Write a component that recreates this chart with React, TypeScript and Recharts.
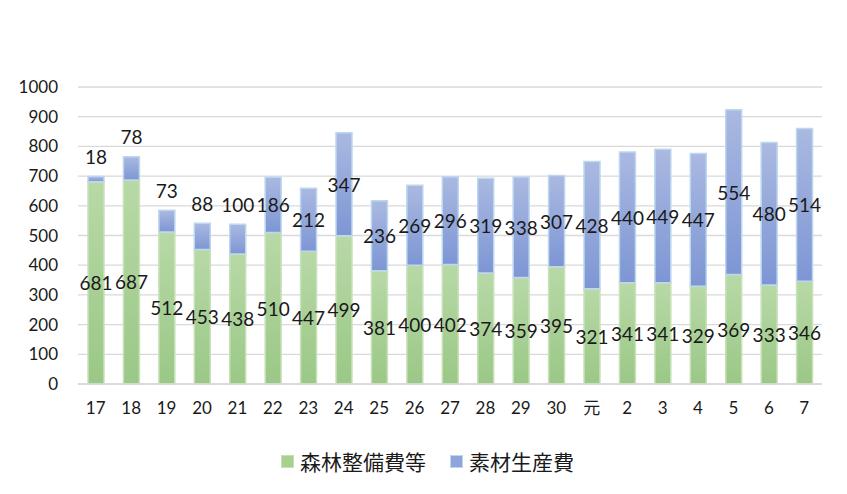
import { BarChart, Bar, XAxis, YAxis, CartesianGrid, Legend, LabelList } from "recharts";

const years = ["17", "18", "19", "20", "21", "22", "23", "24", "25", "26", "27", "28", "29", "30", "元", "2", "3", "4", "5", "6", "7"];
const forestCost = [681, 687, 512, 453, 438, 510, 447, 499, 381, 400, 402, 374, 359, 395, 321, 341, 341, 329, 369, 333, 346];
const logCost = [18, 78, 73, 88, 100, 186, 212, 347, 236, 269, 296, 319, 338, 307, 428, 440, 449, 447, 554, 480, 514];
const yTicks = [0, 100, 200, 300, 400, 500, 600, 700, 800, 900, 1000];

const data = years.map((year, i) => ({ year, forest: forestCost[i], log: logCost[i] }));

const FONT = "Lato, 'Noto Sans CJK JP', sans-serif";
const TEXT = "#1a1a1a";

function CenterLabel(props: any) {
  const { x, y, width, height, value } = props;
  return (
    <text x={x + width / 2} y={y + height / 2} textAnchor="middle" dominantBaseline="central" fontSize={19} fill={TEXT} fontFamily={FONT}>
      {value}
    </text>
  );
}

// small top segments get their label above the bar, as in the original
function TopLabel(props: any) {
  const { x, y, width, height, value } = props;
  const cy = value <= 100 ? y - 20 : y + height / 2;
  return (
    <text x={x + width / 2} y={cy} textAnchor="middle" dominantBaseline="central" fontSize={19} fill={TEXT} fontFamily={FONT}>
      {value}
    </text>
  );
}

function LegendBox() {
  const items = [
    { name: "森林整備費等", fill: "#a9d18e", stroke: "#c5e0b4" },
    { name: "素材生産費", fill: "#8fa4dc", stroke: "#bdd7ee" },
  ];
  return (
    <div style={{ display: "flex", justifyContent: "center", alignItems: "center", height: 30, gap: 24, paddingLeft: 8 }}>
      {items.map((it) => (
        <div key={it.name} style={{ display: "flex", alignItems: "center", gap: 6 }}>
          <span style={{ width: 11, height: 11, background: it.fill, border: `1px solid ${it.stroke}` }} />
          <span style={{ fontSize: 21, color: TEXT, fontFamily: "'Noto Sans CJK JP', sans-serif" }}>{it.name}</span>
        </div>
      ))}
    </div>
  );
}

export default function App() {
  return (
    <div style={{ position: "fixed", left: 0, top: 0, width: 847, height: 494, background: "#fff" }}>
      <BarChart width={847} height={494} data={data} margin={{ top: 87, right: 25, left: 0, bottom: 50 }} barCategoryGap={0}>
        <defs>
          <linearGradient id="gGreen" x1="0" y1="0" x2="0" y2="1">
            <stop offset="0%" stopColor="#b8d9a7" />
            <stop offset="100%" stopColor="#9ac886" />
          </linearGradient>
          <linearGradient id="gBlue" x1="0" y1="0" x2="0" y2="1">
            <stop offset="0%" stopColor="#aab9e1" />
            <stop offset="100%" stopColor="#7d96d4" />
          </linearGradient>
        </defs>
        <CartesianGrid vertical={false} stroke="#d9d9d9" strokeWidth={1.3} />
        <XAxis
          dataKey="year"
          height={30}
          tickLine={false}
          tickSize={0}
          tickMargin={18}
          axisLine={{ stroke: "#d9d9d9", strokeWidth: 1.3 }}
          tick={{ fontSize: 17, fill: TEXT, fontFamily: FONT }}
          interval={0}
        />
        <YAxis
          width={78}
          domain={[0, 1000]}
          ticks={yTicks}
          axisLine={false}
          tickLine={false}
          tickSize={0}
          tickMargin={20}
          tick={{ fontSize: 17, fill: TEXT, fontFamily: FONT }}
        />
        <Legend verticalAlign="bottom" content={<LegendBox />} wrapperStyle={{ top: 446, left: 0, width: 847 }} />
        <Bar dataKey="forest" name="森林整備費等" stackId="a" barSize={16} fill="url(#gGreen)" stroke="#c9e2ba" strokeWidth={1.5} isAnimationActive={false}>
          <LabelList dataKey="forest" content={<CenterLabel />} />
        </Bar>
        <Bar dataKey="log" name="素材生産費" stackId="a" barSize={16} fill="url(#gBlue)" stroke="#bdd7ee" strokeWidth={1.5} isAnimationActive={false}>
          <LabelList dataKey="log" content={<TopLabel />} />
        </Bar>
      </BarChart>
    </div>
  );
}
